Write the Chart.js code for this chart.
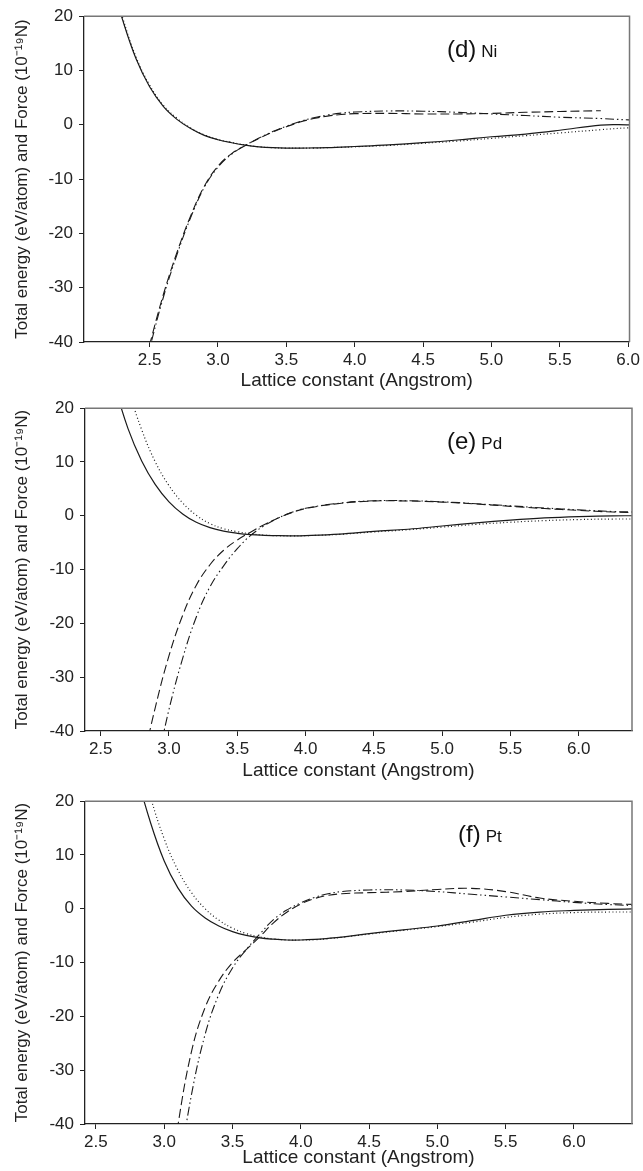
<!DOCTYPE html>
<html>
<head>
<meta charset="utf-8">
<script src="https://cdn.jsdelivr.net/npm/chart.js@4.4.1/dist/chart.umd.min.js"></script>
<style>
  body { margin: 0; background: #fff; width: 643px; height: 1171px; position: relative; overflow: hidden; }
  canvas { position: absolute; left: 0; }
</style>
</head>
<body>
<canvas id="chartNi" width="643" height="392" style="top:0px"></canvas>
<canvas id="chartPd" width="643" height="393" style="top:392px"></canvas>
<canvas id="chartPt" width="643" height="386" style="top:785px"></canvas>
<script>
// axis ticks and titles
const xTickValues = [2.5, 3.0, 3.5, 4.0, 4.5, 5.0, 5.5, 6.0];
const yTickValues = [-40, -30, -20, -10, 0, 10, 20];
const xTitle = 'Lattice constant (Angstrom)';
const yTitle = 'Total energy (eV/atom) and Force (10⁻¹⁹N)';

// (d) Ni
const niX       = [2.2, 2.3, 2.4, 2.5, 2.6, 2.7, 2.8, 2.9, 3.0, 3.1, 3.2, 3.3, 3.4, 3.5, 3.6, 3.7, 3.8, 3.9, 4.0, 4.25, 4.5, 4.75, 5.0, 5.25, 5.5, 5.8, 6.0, 6.1];
const niEnergy1 = [28, 19.5, 12.2, 7.0, 3.4, 1.0, -0.7, -1.95, -2.75, -3.3, -3.75, -4.05, -4.22, -4.3, -4.3, -4.25, -4.2, -4.1, -4.0, -3.7, -3.3, -2.8, -2.2, -1.7, -1.0, -0.05, 0, 0];
const niEnergy2 = [28.5, 19.9, 12.5, 7.3, 3.6, 1.2, -0.6, -1.85, -2.7, -3.25, -3.72, -4.05, -4.22, -4.3, -4.3, -4.3, -4.2, -4.15, -4.05, -3.8, -3.4, -3.0, -2.5, -2.0, -1.5, -0.9, -0.55, -0.5];
const niForce1  = [null, null, -50, -40.5, -31.3, -23.5, -16.8, -11.3, -7.6, -5.3, -3.8, -2.5, -1.35, -0.35, 0.5, 1.15, 1.6, 1.9, 2.05, 2.1, 2.0, 2.0, 2.1, 2.3, 2.45, 2.6, null, null];
const niForce2  = [null, null, -51, -41.2, -31.8, -23.9, -17.1, -11.5, -7.8, -5.4, -3.8, -2.45, -1.25, -0.25, 0.6, 1.3, 1.8, 2.15, 2.35, 2.55, 2.5, 2.3, 2.0, 1.7, 1.4, 1.15, 0.9, 0.8];

// (e) Pd
const pdX       = [2.5, 2.6, 2.7, 2.8, 2.9, 3.0, 3.1, 3.2, 3.3, 3.4, 3.5, 3.6, 3.7, 3.8, 3.9, 4.0, 4.25, 4.5, 4.75, 5.0, 5.25, 5.5, 5.75, 6.0, 6.25, 6.5];
const pdEnergy1 = [35, 24.5, 16.2, 10.2, 5.8, 2.6, 0.35, -1.2, -2.2, -2.85, -3.25, -3.5, -3.62, -3.7, -3.72, -3.68, -3.4, -2.9, -2.5, -1.9, -1.3, -0.8, -0.4, -0.15, 0, 0];
const pdEnergy2 = [46, 33.5, 23.8, 16.0, 10.0, 5.6, 2.4, 0.1, -1.45, -2.4, -2.95, -3.35, -3.6, -3.7, -3.75, -3.7, -3.45, -3.0, -2.6, -2.1, -1.6, -1.2, -0.9, -0.7, -0.6, -0.6];
const pdForce1  = [null, null, -60, -47, -35.6, -26, -18.5, -12.9, -9.1, -6.4, -4.5, -3.0, -1.6, -0.4, 0.6, 1.35, 2.3, 2.75, 2.75, 2.55, 2.2, 1.75, 1.35, 1.0, 0.7, 0.5];
const pdForce2  = [null, null, null, -58, -47.5, -36, -26.5, -18.8, -13.2, -9.3, -6.1, -3.6, -1.8, -0.4, 0.65, 1.4, 2.35, 2.8, 2.8, 2.6, 2.25, 1.85, 1.45, 1.1, 0.8, 0.65];

// (f) Pt
const ptX       = [2.7, 2.8, 2.9, 3.0, 3.1, 3.2, 3.3, 3.4, 3.5, 3.6, 3.7, 3.8, 3.9, 4.0, 4.1, 4.2, 4.3, 4.5, 4.75, 5.0, 5.25, 5.5, 5.75, 6.0, 6.25, 6.5];
const ptEnergy1 = [37, 25, 16.0, 8.9, 3.9, 0.5, -1.7, -3.2, -4.25, -4.95, -5.4, -5.65, -5.8, -5.8, -5.7, -5.5, -5.25, -4.6, -3.9, -3.2, -2.2, -1.2, -0.6, -0.3, -0.1, 0];
const ptEnergy2 = [45, 31, 20.8, 13.0, 7.2, 3.0, 0.0, -2.1, -3.6, -4.6, -5.25, -5.6, -5.8, -5.8, -5.75, -5.55, -5.3, -4.7, -4.0, -3.3, -2.5, -1.6, -1.0, -0.7, -0.6, -0.6];
const ptForce1  = [null, null, null, -58, -40.3, -26.5, -18.3, -13.4, -10.0, -7.6, -5.2, -2.6, -0.6, 0.9, 1.9, 2.5, 2.8, 3.0, 3.2, 3.6, 3.8, 3.2, 2.0, 1.4, 1.0, 0.75];
const ptForce2  = [null, null, null, null, -50, -34.5, -23.3, -15.9, -11.0, -7.6, -4.7, -2.0, -0.2, 1.1, 2.1, 2.8, 3.2, 3.5, 3.5, 3.2, 2.7, 2.2, 1.7, 1.2, 0.8, 0.55];

const FONT = "'Liberation Sans', Arial, Helvetica, sans-serif";
Chart.defaults.font.family = FONT;
Chart.defaults.color = '#222';

function pts(xs, ys) {
    return xs.map((x, i) => ({ x: x, y: ys[i] }));
}

function line(xs, ys, dash, width) {
    return {
        data: pts(xs, ys),
        borderColor: '#1a1a1a',
        borderWidth: width,
        borderDash: dash,
        pointRadius: 0,
        fill: false,
        tension: 0.4,
        spanGaps: false
    };
}

// top/right frame and the panel tag
const framePlugin = {
    id: 'frame',
    afterDraw(chart) {
        const { ctx, chartArea: a } = chart;
        const o = chart.options.plugins.frame;
        ctx.save();
        ctx.strokeStyle = '#777';
        ctx.lineWidth = 1.5;
        ctx.beginPath();
        ctx.moveTo(a.left, a.top);
        ctx.lineTo(a.right, a.top);
        ctx.lineTo(a.right, a.bottom);
        ctx.stroke();

        ctx.fillStyle = '#111';
        ctx.textBaseline = 'alphabetic';
        ctx.font = '24px ' + FONT;
        ctx.fillText(o.tag, a.left + o.dx, a.top + o.dy);
        const w = ctx.measureText(o.tag).width + 5;
        ctx.font = '17px ' + FONT;
        ctx.fillText(o.element, a.left + o.dx + w, a.top + o.dy);
        ctx.restore();
    }
};

function makePanel(id, p) {
    new Chart(document.getElementById(id), {
        type: 'line',
        data: {
            datasets: [
                line(p.x, p.e1, [], 1.2),
                line(p.x, p.e2, [1, 2.5], 1.2),
                line(p.x, p.f1, [9, 4], 1.1),
                line(p.x, p.f2, [9, 3, 1.5, 3, 1.5, 3], 1.1)
            ]
        },
        options: {
            responsive: false,
            animation: false,
            layout: { padding: { top: p.padTop, right: p.padRight, left: 0, bottom: 0 } },
            plugins: {
                legend: { display: false },
                tooltip: { enabled: false },
                frame: { tag: p.tag, element: p.element, dx: p.labelDx, dy: 41 }
            },
            scales: {
                x: {
                    type: 'linear',
                    min: p.xMin,
                    max: p.xMax,
                    afterBuildTicks: s => { s.ticks = xTickValues.map(v => ({ value: v })); },
                    afterFit: s => { s.height = p.xHeight; },
                    ticks: {
                        font: { size: 17 },
                        color: '#222',
                        padding: 3,
                        maxRotation: 0,
                        autoSkip: false,
                        callback: v => v.toFixed(1)
                    },
                    grid: { drawOnChartArea: false, drawTicks: true, tickLength: 5, color: '#222' },
                    border: { color: '#222', width: 1.3 },
                    title: {
                        display: true,
                        text: xTitle,
                        font: { size: 19 },
                        color: '#222',
                        padding: { top: 0, bottom: p.titlePad }
                    }
                },
                y: {
                    min: -40,
                    max: 20,
                    afterBuildTicks: s => { s.ticks = yTickValues.map(v => ({ value: v })); },
                    afterFit: s => { s.width = p.left; },
                    ticks: {
                        font: { size: 17 },
                        color: '#222',
                        padding: 6,
                        callback: v => String(v)
                    },
                    grid: { drawOnChartArea: false, drawTicks: true, tickLength: 5, color: '#222' },
                    border: { color: '#222', width: 1.3 },
                    title: {
                        display: true,
                        text: yTitle,
                        font: { size: 17 },
                        color: '#222',
                        padding: { top: 12, bottom: 0 }
                    }
                }
            }
        },
        plugins: [framePlugin]
    });
}

makePanel('chartNi', {
    x: niX, e1: niEnergy1, e2: niEnergy2, f1: niForce1, f2: niForce2,
    xMin: 2.02, xMax: 6.01, tag: '(d)', element: 'Ni', labelDx: 363,
    padTop: 15, padRight: 12, left: 84, xHeight: 50, titlePad: 0
});
makePanel('chartPd', {
    x: pdX, e1: pdEnergy1, e2: pdEnergy2, f1: pdForce1, f2: pdForce2,
    xMin: 2.385, xMax: 6.39, tag: '(e)', element: 'Pd', labelDx: 362,
    padTop: 11, padRight: 11, left: 85, xHeight: 54, titlePad: 2.6
});
makePanel('chartPt', {
    x: ptX, e1: ptEnergy1, e2: ptEnergy2, f1: ptForce1, f2: ptForce2,
    xMin: 2.42, xMax: 6.425, tag: '(f)', element: 'Pt', labelDx: 373,
    padTop: 12, padRight: 11, left: 85, xHeight: 47, titlePad: 1.6
});
</script>
</body>
</html>
